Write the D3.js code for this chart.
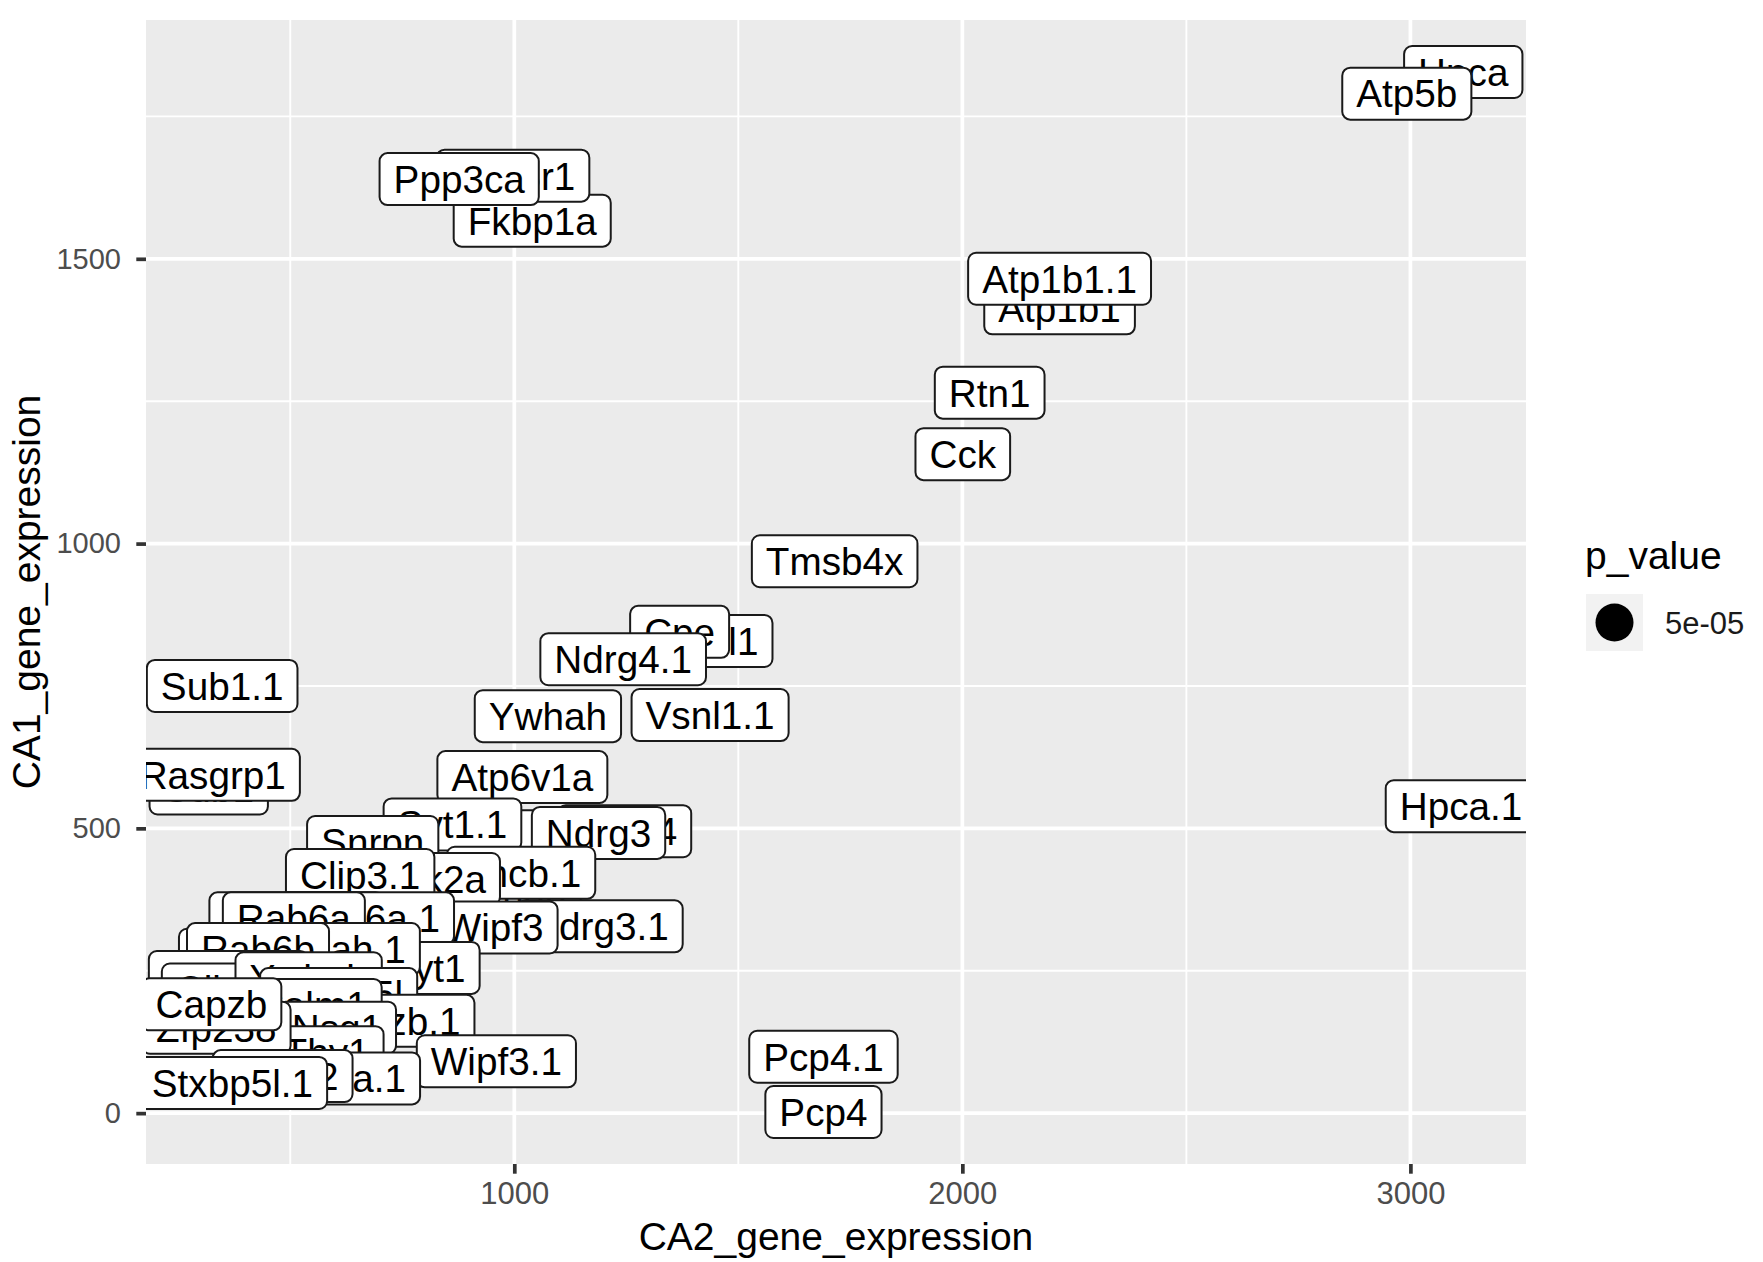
<!DOCTYPE html>
<html>
<head>
<meta charset="utf-8">
<script src="https://cdn.jsdelivr.net/npm/d3@7"></script>
<style>
  html, body { margin: 0; padding: 0; background: #ffffff; }
  svg { display: block; }
</style>
</head>
<body>
<svg id="chart" width="1763" height="1262"></svg>
<script>
// Gene labels in drawing order (later labels sit on top of earlier ones)
const genes = [
  "Hpca", "Atp5b", "Fkbp1a", "Ppp3r1", "Ppp3ca", "Atp1b1", "Atp1b1.1", "Rtn1", "Cck", "Tmsb4x",
  "Vsnl1", "Cpe", "Ndrg4.1", "Sub1.1", "Ywhah", "Vsnl1.1", "Sub1", "Rasgrp1", "Atp6v1a", "Stmn1",
  "Syt1.1", "Ndrg4", "Ndrg3", "Snrpn", "Ywhag", "Sncb.1", "Camk2a", "Clip3.1", "Ndrg3.1", "Wipf3",
  "Rab6b.1", "Rab6a.1", "Rab6a", "Syt1", "Ywhah.1", "Nrsn1", "Rab6b", "Sparcl1", "Clip3", "Ywhab",
  "Stxbp5l", "Capzb.1", "Calm1", "Nsg1", "Thy1", "Zfp238", "Capzb", "Wipf3.1", "Ppp3ca.1", "Calm2",
  "Stxbp5l.1", "Pcp4.1", "Pcp4", "Hpca.1"
];

// CA2 expression (x)
const ca2Expression = [
  3118, 2992, 1040, 997, 877, 2217, 2217, 2061, 2001, 1715,
  1437, 1369, 1243, 348, 1075, 1437, 318, 327, 1018, 905,
  862, 1246, 1188, 684, 985, 1015, 776, 656, 1191, 955,
  514, 671, 508, 805, 590, 398, 428, 362, 343, 541,
  608, 719, 548, 604, 581, 335, 324, 960, 576, 483,
  371, 1690, 1690, 3113
];

// CA1 expression (y)
const ca1Expression = [
  1828, 1790, 1567, 1646, 1640, 1413, 1465, 1265, 1157, 969,
  829, 845, 797, 750, 697, 699, 570, 594, 590, 486,
  507, 495, 492, 476, 387, 422, 411, 418, 328, 326,
  342, 342, 342, 255, 288, 278, 288, 239, 217, 237,
  209, 162, 190, 150, 107, 150, 191, 91, 61, 65,
  53, 99, 2, 539
];

// Point size legend
const pValueBreaks = [5e-05];
const pValueLabels = ["5e-05"];

// Axis breaks
const xTicks = [1000, 2000, 3000];
const xMinorTicks = [500, 1500, 2500];
const yTicks = [0, 500, 1000, 1500];
const yMinorTicks = [250, 750, 1250, 1750];

const FONT = "'Liberation Sans', Arial, Helvetica, sans-serif";
const panel = { left: 146, right: 1526, top: 20, bottom: 1164 };

const svg = d3.select("#chart").attr("font-family", FONT);

// Continuous scales with a 5% expansion on each side of the data range
const xExt = d3.extent(ca2Expression);
const yExt = d3.extent(ca1Expression);
const xPad = (xExt[1] - xExt[0]) * 0.05;
const yPad = (yExt[1] - yExt[0]) * 0.05;
const x = d3.scaleLinear().domain([xExt[0] - xPad, xExt[1] + xPad]).range([panel.left, panel.right]);
const y = d3.scaleLinear().domain([yExt[0] - yPad, yExt[1] + yPad]).range([panel.bottom, panel.top]);

svg.append("defs").append("clipPath").attr("id", "panel-clip")
  .append("rect")
  .attr("x", panel.left).attr("y", panel.top)
  .attr("width", panel.right - panel.left).attr("height", panel.bottom - panel.top);

// Panel background
svg.append("rect")
  .attr("x", panel.left).attr("y", panel.top)
  .attr("width", panel.right - panel.left).attr("height", panel.bottom - panel.top)
  .attr("fill", "#EBEBEB");

// Grid lines
const grid = svg.append("g").attr("clip-path", "url(#panel-clip)");
function vLines(values, width) {
  grid.selectAll(null).data(values.filter(v => v >= x.domain()[0] && v <= x.domain()[1])).enter()
    .append("line")
    .attr("x1", d => x(d)).attr("x2", d => x(d))
    .attr("y1", panel.top).attr("y2", panel.bottom)
    .attr("stroke", "#ffffff").attr("stroke-width", width);
}
function hLines(values, width) {
  grid.selectAll(null).data(values.filter(v => v >= y.domain()[0] && v <= y.domain()[1])).enter()
    .append("line")
    .attr("y1", d => y(d)).attr("y2", d => y(d))
    .attr("x1", panel.left).attr("x2", panel.right)
    .attr("stroke", "#ffffff").attr("stroke-width", width);
}
vLines(xMinorTicks, 1.9);
hLines(yMinorTicks, 1.9);
vLines(xTicks, 3.7);
hLines(yTicks, 3.7);

// Axes
const xAxis = svg.append("g")
  .attr("transform", `translate(0,${panel.bottom})`)
  .call(d3.axisBottom(x).tickValues(xTicks).tickSize(9.7).tickPadding(7.8).tickFormat(d3.format("d")));
xAxis.attr("font-family", FONT).attr("font-size", 31);
xAxis.select(".domain").remove();
xAxis.selectAll(".tick line").attr("stroke", "#333333").attr("stroke-width", 3.7);
xAxis.selectAll(".tick text").attr("fill", "#4D4D4D");

const yAxis = svg.append("g")
  .attr("transform", `translate(${panel.left},0)`)
  .call(d3.axisLeft(y).tickValues(yTicks).tickSize(9.7).tickPadding(15.3).tickFormat(d3.format("d")));
yAxis.attr("font-family", FONT).attr("font-size", 29);
yAxis.select(".domain").remove();
yAxis.selectAll(".tick line").attr("stroke", "#333333").attr("stroke-width", 3.7);
yAxis.selectAll(".tick text").attr("fill", "#4D4D4D");

// Axis titles
svg.append("text")
  .attr("x", (panel.left + panel.right) / 2).attr("y", 1250)
  .attr("text-anchor", "middle").attr("font-size", 39).attr("fill", "#000")
  .text("CA2_gene_expression");
svg.append("text")
  .attr("transform", `translate(40,${(panel.top + panel.bottom) / 2}) rotate(-90)`)
  .attr("text-anchor", "middle").attr("font-size", 39).attr("fill", "#000")
  .text("CA1_gene_expression");

// Points and labels, clipped to the panel
const plot = svg.append("g").attr("clip-path", "url(#panel-clip)");
const pointRadius = 19;
plot.selectAll("circle.pt").data(genes).enter()
  .append("circle").attr("class", "pt")
  .attr("cx", (d, i) => x(ca2Expression[i]))
  .attr("cy", (d, i) => y(ca1Expression[i]))
  .attr("r", pointRadius).attr("fill", "#000");

const labelFont = 38.7, padX = 14, boxH = 52;
genes.forEach((g, i) => {
  const cx = x(ca2Expression[i]), cy = y(ca1Expression[i]);
  const lg = plot.append("g").attr("class", "gene-label");
  const rect = lg.append("rect");
  const t = lg.append("text")
    .attr("x", cx).attr("y", cy + labelFont * 0.358)
    .attr("text-anchor", "middle").attr("font-size", labelFont).attr("fill", "#000")
    .text(g);
  const w = t.node().getComputedTextLength() + 2 * padX;
  rect.attr("x", cx - w / 2).attr("y", cy - boxH / 2)
    .attr("width", w).attr("height", boxH)
    .attr("rx", 8).attr("ry", 8)
    .attr("fill", "#ffffff").attr("stroke", "#1a1a1a").attr("stroke-width", 2);
});

// Legend
const legend = svg.append("g");
legend.append("text")
  .attr("x", 1585).attr("y", 569)
  .attr("font-size", 39).attr("fill", "#000")
  .text("p_value");
pValueBreaks.forEach((p, i) => {
  const top = 594 + i * 57;
  legend.append("rect")
    .attr("x", 1586).attr("y", top).attr("width", 57).attr("height", 57)
    .attr("fill", "#F2F2F2");
  legend.append("circle")
    .attr("cx", 1614.5).attr("cy", top + 28.5).attr("r", pointRadius).attr("fill", "#000");
  legend.append("text")
    .attr("x", 1665).attr("y", top + 28.5 + 11)
    .attr("font-size", 31).attr("fill", "#1a1a1a")
    .text(pValueLabels[i]);
});
</script>
</body>
</html>
